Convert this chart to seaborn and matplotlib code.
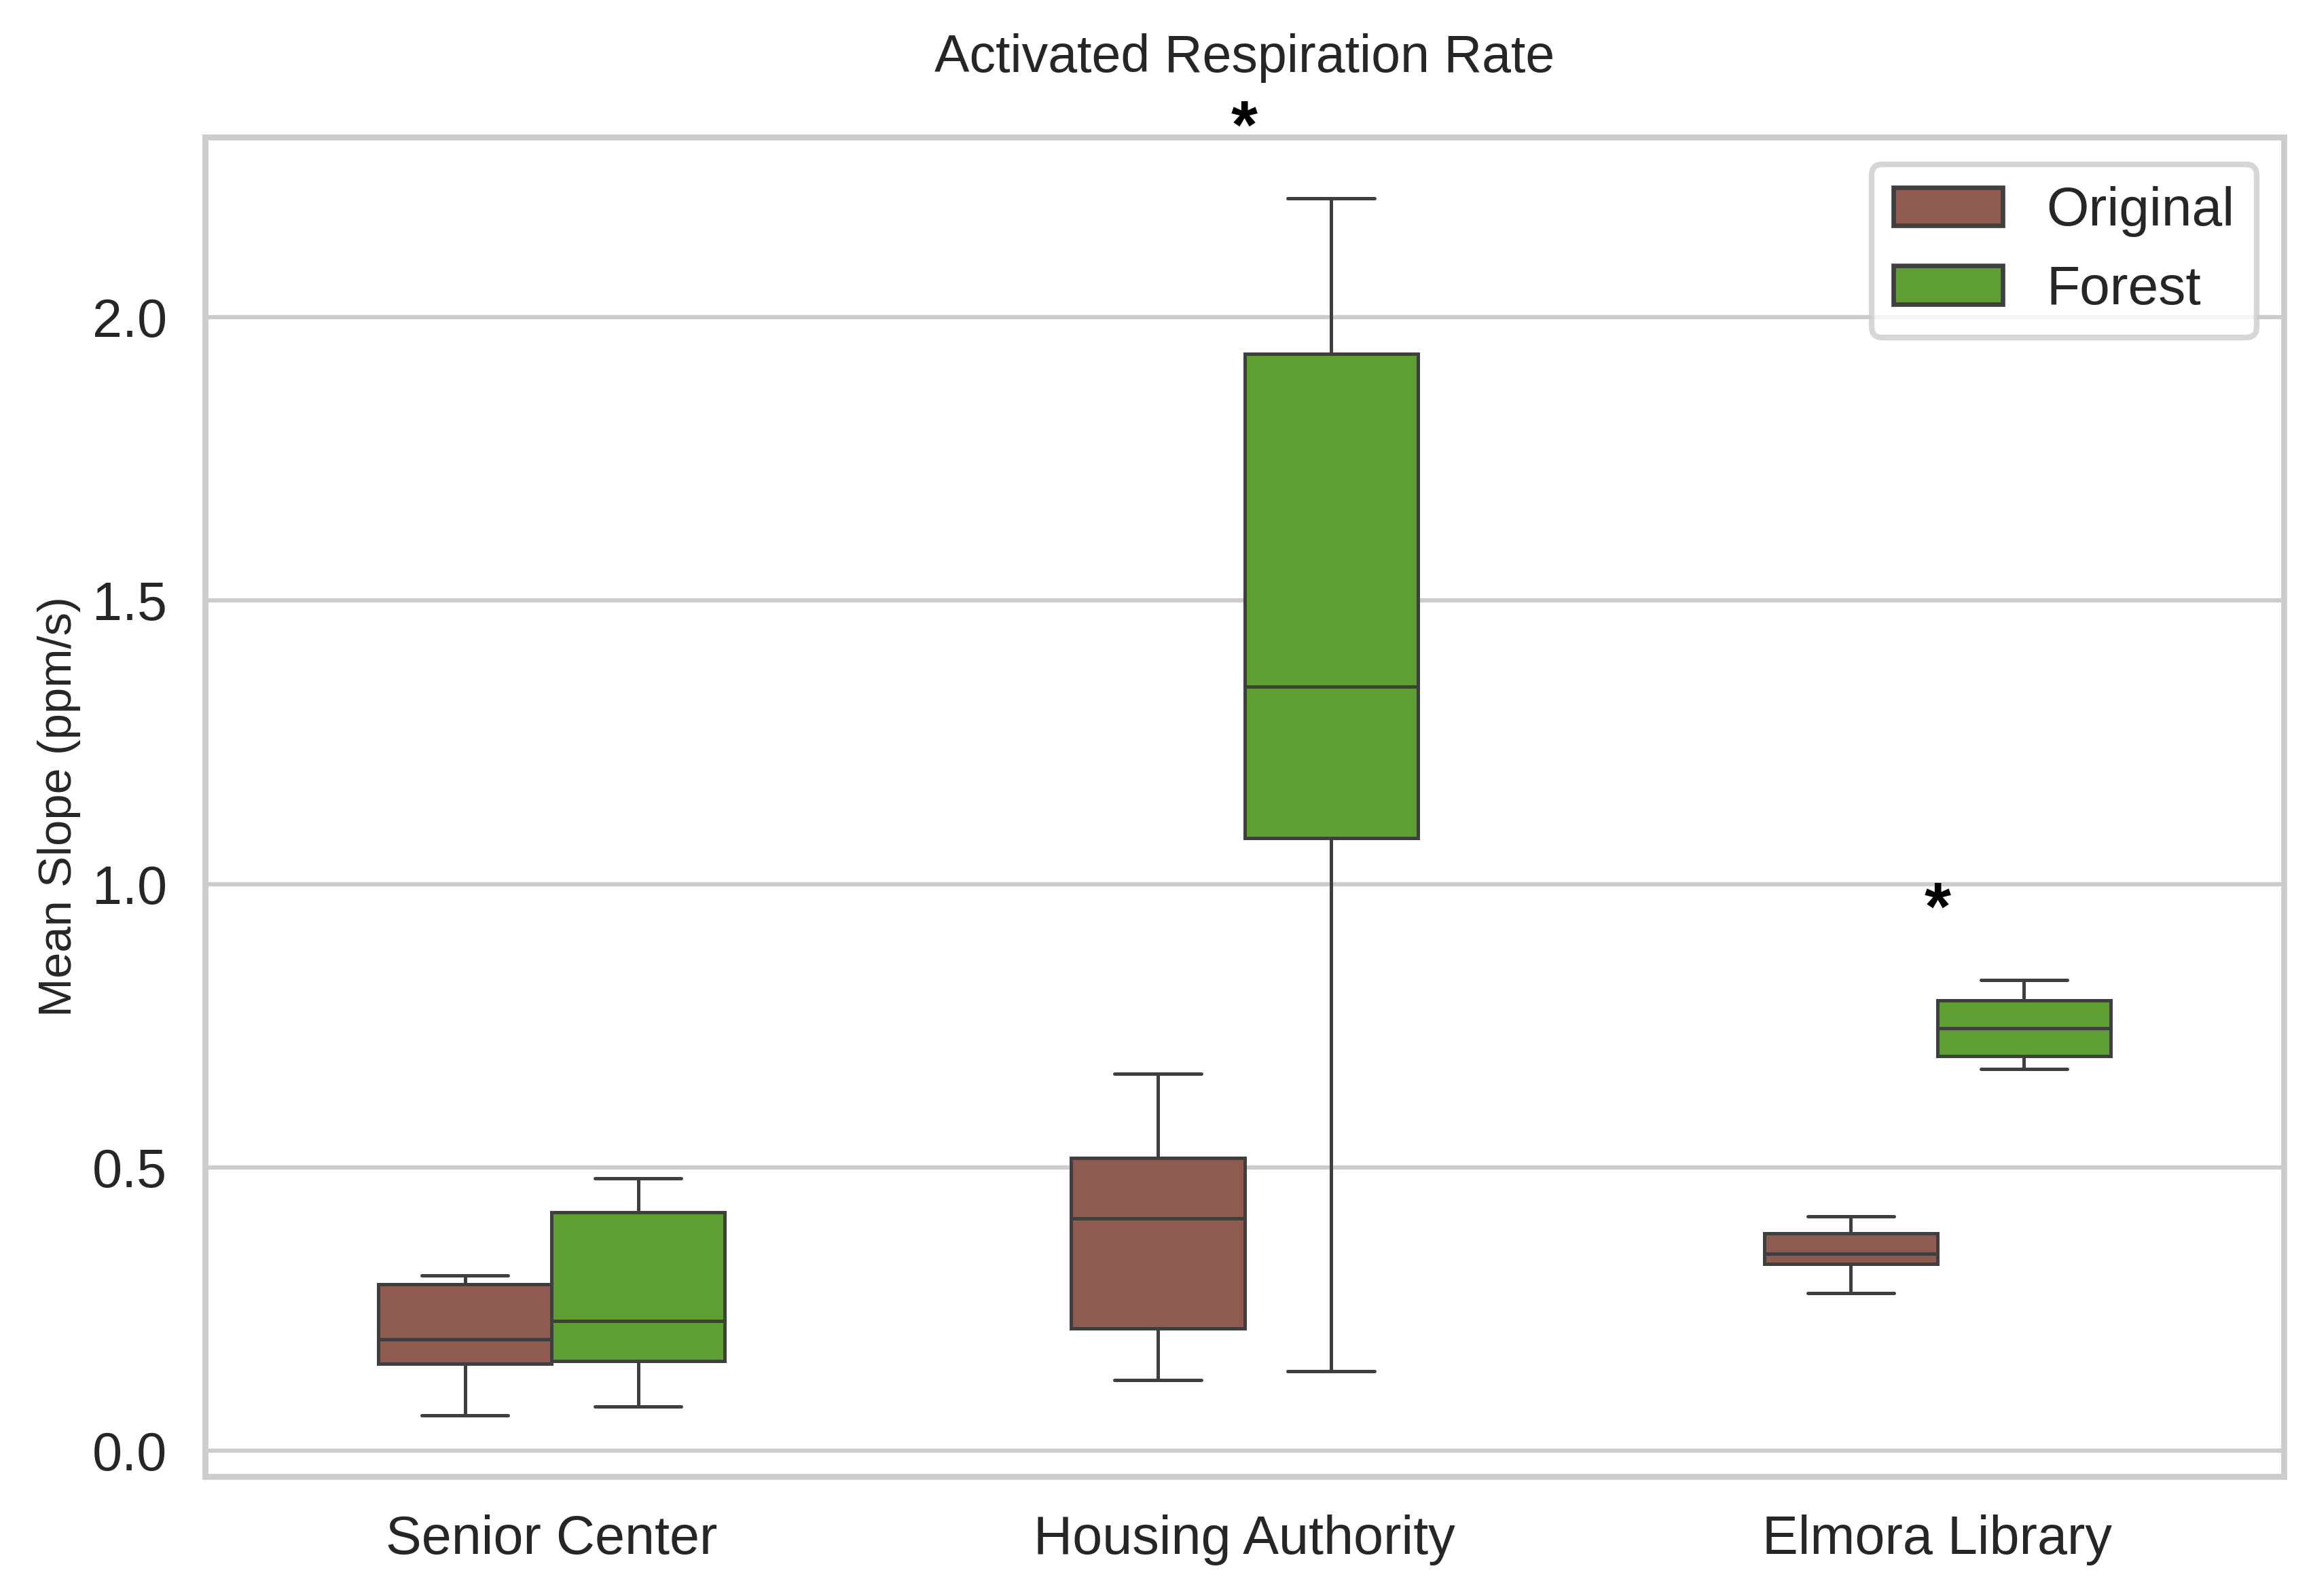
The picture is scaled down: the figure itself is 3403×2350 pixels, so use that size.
import numpy as np
import pandas as pd
import seaborn as sns
from matplotlib import pyplot as plt

sites = ["Senior Center", "Housing Authority", "Elmora Library"]
treatments = ["Original", "Forest"]

# five readings per box (min, q1, median, q3, max)
senior_original = [0.062, 0.153, 0.197, 0.294, 0.309]
senior_forest = [0.078, 0.158, 0.229, 0.421, 0.481]
housing_original = [0.125, 0.216, 0.410, 0.517, 0.665]
housing_forest = [0.140, 1.081, 1.348, 1.935, 2.210]
elmora_original = [0.278, 0.330, 0.348, 0.384, 0.413]
elmora_forest = [0.673, 0.696, 0.745, 0.795, 0.831]

# sites marked as significant
significant = ["Housing Authority", "Elmora Library"]

colors = {"Original": "#8f5a50", "Forest": "#5f9e33"}

readings = {
    ("Senior Center", "Original"): senior_original,
    ("Senior Center", "Forest"): senior_forest,
    ("Housing Authority", "Original"): housing_original,
    ("Housing Authority", "Forest"): housing_forest,
    ("Elmora Library", "Original"): elmora_original,
    ("Elmora Library", "Forest"): elmora_forest,
}
rows = []
for (site, treat), vals in readings.items():
    for v in vals:
        rows.append({"Site": site, "Treatment": treat, "Slope": v})
df = pd.DataFrame(rows)

sns.set_theme(style="whitegrid", rc={
    "grid.linewidth": 1.5,
    "axes.linewidth": 2.1,
    "xtick.major.pad": 7.5,
    "ytick.major.pad": 7.5,
})
plt.rcParams["font.family"] = ["Liberation Sans", "DejaVu Sans"]

fig, ax = plt.subplots(figsize=(3404 / 300, 2350 / 300), dpi=300)
fig.subplots_adjust(left=0.0887, right=0.988, bottom=0.0749, top=0.914)

sns.boxplot(data=df, x="Site", y="Slope", hue="Treatment", order=sites,
            hue_order=treatments, palette=colors, saturation=1, width=0.5,
            gap=0, linewidth=1.2, linecolor="#3f3f3f", ax=ax)

# significance stars above the sites
for i, site in enumerate(sites):
    if site in significant:
        top = df.loc[df["Site"] == site, "Slope"].max()
        ax.text(i, top + 0.063, "*", ha="center", va="bottom",
                fontsize=24, fontweight="bold", color="black", clip_on=False)

ax.set_title("Activated Respiration Rate", fontsize=18.5, pad=23)
ax.set_xlabel("")
ax.set_ylabel("Mean Slope (ppm/s)", fontsize=16.5)
ax.tick_params(axis="both", labelsize=19)
leg = ax.legend(fontsize=19.3, loc="upper right")
leg.get_frame().set_linewidth(2.0)
for h in leg.legend_handles:
    h.set_linewidth(1.6)

fig.savefig("out.png", dpi=300)
